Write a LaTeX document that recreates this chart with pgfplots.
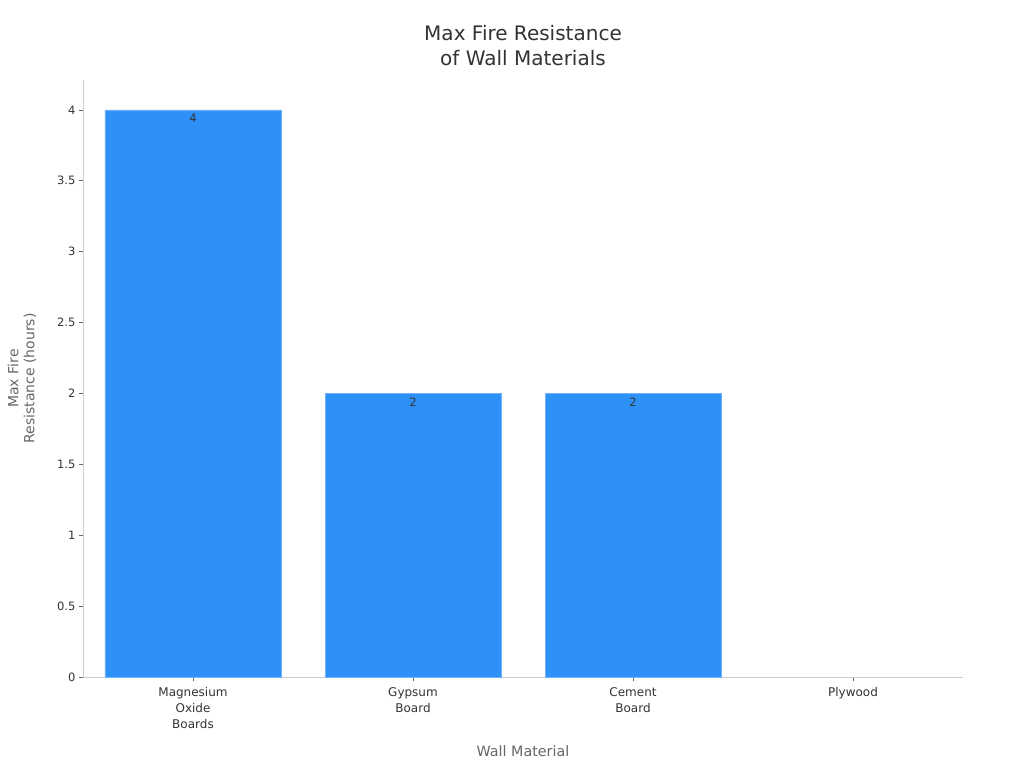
\documentclass[border=0pt]{standalone}
\usepackage{pgfplots}
\pgfplotsset{compat=1.18}
\usepackage{fontspec}
\setmainfont{DejaVu Sans}
\definecolor{barblue}{HTML}{2E91F8}
\definecolor{baredge}{HTML}{6FB3FA}
\definecolor{axgray}{HTML}{CCCCCC}
\definecolor{txt}{HTML}{333333}
\definecolor{lbl}{HTML}{666666}
\begin{document}
\begin{tikzpicture}
\path[use as bounding box] (-83pt,-91pt) rectangle (941pt,677pt);
\begin{axis}[
  at={(0pt,0pt)}, anchor=south west,
  scale only axis,
  width=880pt, height=597pt,
  xmin=-0.5, xmax=3.5,
  ymin=0, ymax=4.211,
  /pgf/number format/assume math mode=true,
  xtick={0,1,2,3},
  xticklabels={{Magnesium\\Oxide\\Boards},{Gypsum\\Board},{Cement\\Board},{Plywood}},
  xticklabel style={align=center, font=\fontsize{12}{16}\selectfont, text=txt, yshift=-3pt},
  ytick={0,0.5,1,1.5,2,2.5,3,3.5,4},
  yticklabel style={font=\fontsize{11.5}{13}\selectfont, text=txt},
  axis lines*=left,
  axis line style={axgray, line width=0.8pt},
  tick style={color=lbl, line width=0.6pt},
  tick align=outside,
  major tick length=4pt,
  separate axis lines,
  x axis line style={-}, y axis line style={-},
  xlabel={Wall Material},
  ylabel={Max Fire\\Resistance (hours)},
  xlabel style={font=\fontsize{14.3}{16}\selectfont, text=lbl, at={(axis description cs:0.5,0)}, anchor=center, yshift=-74pt},
  ylabel style={font=\fontsize{14}{16}\selectfont, text=lbl, align=center, at={(axis description cs:0,0.5)}, anchor=center, yshift=61pt},
  title={Max Fire Resistance\\of Wall Materials},
  title style={font=\fontsize{20}{25}\selectfont, text=txt, align=center, at={(axis description cs:0.5,1)}, anchor=center, yshift=28pt},
  ybar, bar width=176pt, bar shift=0pt,
  clip=false,
]
\addplot[fill=barblue, draw=baredge, line width=0.6pt,
  nodes near coords, nodes near coords align={below},
  every node near coord/.append style={font=\fontsize{11.5}{13}\selectfont, text=txt, anchor=north, yshift=-1pt}]
  coordinates {(0,4) (1,2) (2,2)};
\addplot[draw=none, fill=none] coordinates {(3,0)};
\end{axis}
\end{tikzpicture}
\end{document}
